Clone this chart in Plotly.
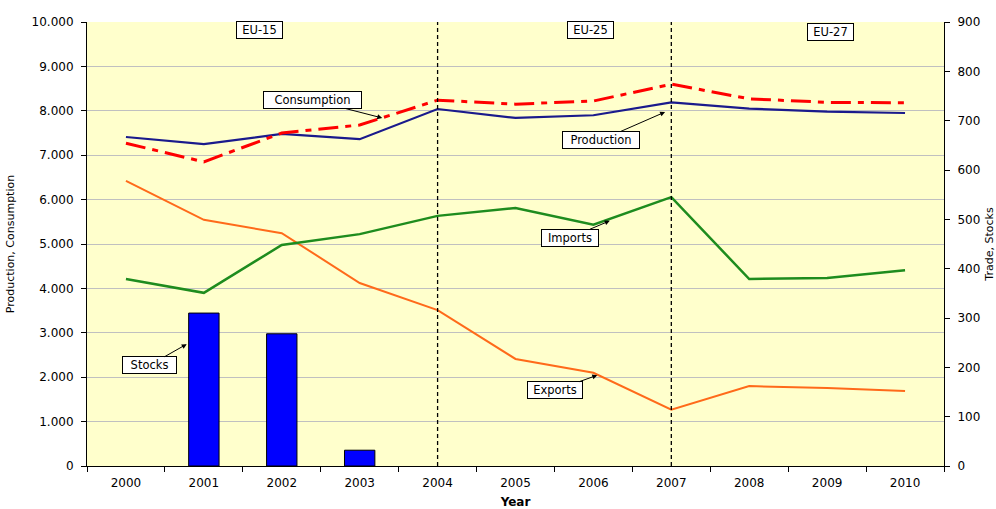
import plotly.graph_objects as go

years = ["2000", "2001", "2002", "2003", "2004", "2005", "2006", "2007", "2008", "2009", "2010"]
production = [7410, 7250, 7480, 7360, 8040, 7840, 7900, 8190, 8050, 7980, 7950]
consumption = [7270, 6850, 7500, 7680, 8240, 8150, 8220, 8600, 8270, 8190, 8180]
imports = [379, 351, 448, 470, 507, 523, 489, 545, 379, 381, 397]
exports = [578, 499, 472, 371, 316, 217, 189, 114, 162, 158, 152]
stocks = [None, 310, 268, 32, None, None, None, None, None, None, None]
left_ticks = [0, 1000, 2000, 3000, 4000, 5000, 6000, 7000, 8000, 9000, 10000]
right_ticks = [0, 100, 200, 300, 400, 500, 600, 700, 800, 900]
enlargements = [("EU-15", 1.72, 0.982), ("EU-25", 5.96, 0.982), ("EU-27", 9.04, 0.977)]
boundary_years = ["2004", "2007"]

FONT = "DejaVu Sans"

fig = go.Figure()
fig.add_trace(go.Bar(x=years, y=stocks, name="Stocks", yaxis="y2", width=0.39,
                     marker=dict(color="#0000FF", line=dict(color="black", width=1))))
fig.add_trace(go.Scatter(x=years, y=exports, name="Exports", yaxis="y2", mode="lines",
                         line=dict(color="#FF6A1A", width=2)))
fig.add_trace(go.Scatter(x=years, y=imports, name="Imports", yaxis="y2", mode="lines",
                         line=dict(color="#1E8C1E", width=2.5)))
fig.add_trace(go.Scatter(x=years, y=production, name="Production", yaxis="y", mode="lines",
                         line=dict(color="#1A1A8C", width=2.2)))
fig.add_trace(go.Scatter(x=years, y=consumption, name="Consumption", yaxis="y", mode="lines",
                         line=dict(color="#FF0000", width=3, dash="20px,7px,6px,7px")))

for yr in boundary_years:
    idx = years.index(yr)
    fig.add_shape(type="line", xref="x", yref="paper", x0=idx, x1=idx, y0=0, y1=1,
                  line=dict(color="black", width=1.3, dash="4px,3px"))

box = dict(bgcolor="white", bordercolor="black", borderwidth=1, borderpad=1,
           font=dict(family=FONT, size=11.5, color="black"))
arrow = dict(showarrow=True, arrowhead=2, arrowsize=1, arrowwidth=1, arrowcolor="black")

ann = []
ann.append(dict(text="Consumption", x=3.29, y=7838, xref="x", yref="y", ax=-70, ay=-18, width=95, **arrow, **box))
ann.append(dict(text="Production", x=6.92, y=7973, xref="x", yref="y", ax=-64, ay=28, width=74, **arrow, **box))
ann.append(dict(text="Imports", x=6.21, y=497, xref="x", yref="y2", ax=-40, ay=17, width=54, **arrow, **box))
ann.append(dict(text="Stocks", x=0.78, y=247, xref="x", yref="y2", ax=-37, ay=21, width=51, **arrow, **box))
ann.append(dict(text="Exports", x=6.05, y=184, xref="x", yref="y2", ax=-42, ay=15, width=52, **arrow, **box))
for txt, xi, yp in enlargements:
    ann.append(dict(text=txt, x=xi, y=yp, xref="x", yref="paper", xanchor="center", yanchor="middle",
                    showarrow=False, width=43, **box))

fig.update_layout(
    width=996, height=509,
    margin=dict(l=87, r=52, t=22, b=43),
    paper_bgcolor="white",
    plot_bgcolor="#FFFFCC",
    separators=",.",
    showlegend=False,
    font=dict(family=FONT, size=12, color="black"),
    annotations=ann,
    xaxis=dict(type="category", categoryorder="array", categoryarray=years,
               range=[-0.5, len(years) - 0.5], autorange=False, automargin=False,
               showline=True, linecolor="black", linewidth=1,
               ticks="outside", tickson="boundaries", ticklen=5, tickcolor="black",
               showgrid=False, tickangle=0, ticklabelstandoff=6,
               tickfont=dict(family=FONT, size=12),
               title=dict(text="<b>Year</b>", font=dict(family=FONT, size=12), standoff=10)),
    yaxis=dict(range=[0, 10000], tickvals=left_ticks, tickformat=",d", automargin=False,
               showline=True, linecolor="black", linewidth=1,
               ticks="outside", ticklen=5, tickcolor="black", ticklabelstandoff=5,
               showgrid=True, gridcolor="#C0C0C0", gridwidth=1, zeroline=False,
               tickfont=dict(family=FONT, size=12),
               title=dict(text="Production, Consumption", font=dict(family=FONT, size=11), standoff=14)),
    yaxis2=dict(range=[0, 900], tickvals=right_ticks, overlaying="y", side="right", automargin=False,
                showline=True, linecolor="black", linewidth=1,
                ticks="outside", ticklen=5, tickcolor="black", ticklabelstandoff=5,
                showgrid=False, zeroline=False,
                tickfont=dict(family=FONT, size=12),
                title=dict(text="Trade, Stocks", font=dict(family=FONT, size=11), standoff=8)),
)

fig.write_html("out.html", config={"displayModeBar": False},
               post_script="document.body.style.margin='0';")
